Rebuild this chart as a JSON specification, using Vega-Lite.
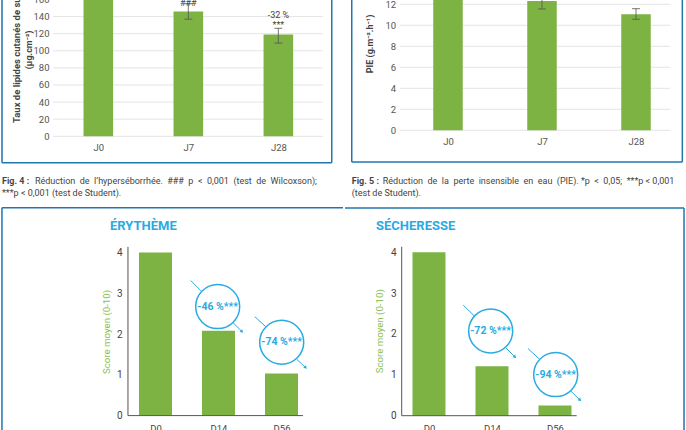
{
"$schema":"https://vega.github.io/schema/vega-lite/v6.json",
"padding":{"left":0,"right":0,"bottom":0,"top":-25},
"spacing":0,
"config":{"view":{"stroke":null},"font":"Roboto","concat":{"spacing":0}},
"vconcat":[
{"spacing":0,"hconcat":[
{"width":343,"height":225,
"encoding":{
"x":{"field":"pos","type":"quantitative","scale":{"domain":[-0.092,3.718],"nice":false,"zero":false,"padding":0},"axis":{"title":null,"values":[1,2,3],"labelExpr":"datum.value==1?'J0':datum.value==2?'J7':'J28'","domain":false,"ticks":false,"grid":false,"offset":-63,"labelPadding":0,"labelFontSize":9.5,"labelColor":"#555","labelBaseline":"top"}},
"y":{"field":"value","type":"quantitative","scale":{"domain":[-80.35,182.8],"nice":false,"zero":false},"axis":{"title":null,"values":[0,20,40,60,80,100,120,140,160],"domain":false,"ticks":false,"grid":false,"offset":-49,"labelPadding":0,"labelFontSize":9.5,"labelColor":"#555"}}},
"layer":[
{"data":{"values":[{"pos":0.497,"pos2":3.497,"value":0,"value2":0},{"pos":0.497,"pos2":3.497,"value":20,"value2":20},{"pos":0.497,"pos2":3.497,"value":40,"value2":40},{"pos":0.497,"pos2":3.497,"value":60,"value2":60},{"pos":0.497,"pos2":3.497,"value":80,"value2":80},{"pos":0.497,"pos2":3.497,"value":100,"value2":100},{"pos":0.497,"pos2":3.497,"value":120,"value2":120},{"pos":0.497,"pos2":3.497,"value":140,"value2":140},{"pos":0.497,"pos2":3.497,"value":160,"value2":160}]},"mark":{"type":"rule","color":"#e4e4e4","strokeWidth":1},"encoding":{"x2":{"field":"pos2"},"y2":{"field":"value2"}}},
{"data":{"values":[{"pos":1,"value":175},{"pos":2,"value":146},{"pos":3,"value":119}]},"mark":{"type":"bar","orient":"vertical","width":29.6,"color":"#7cb342"}},
{"data":{"values":[{"pos":2,"pos2":2,"value":137,"value2":155},{"pos":1.956,"pos2":2.044,"value":137,"value2":137},{"pos":1.956,"pos2":2.044,"value":155,"value2":155},{"pos":3,"pos2":3,"value":109,"value2":126.3},{"pos":2.956,"pos2":3.044,"value":109,"value2":109},{"pos":2.956,"pos2":3.044,"value":126.3,"value2":126.3}]},"mark":{"type":"rule","color":"#555","strokeWidth":0.8},"encoding":{"x2":{"field":"pos2"},"y2":{"field":"value2"}}},
{"data":{"values":[{"pos":-0.07,"pos2":-0.07,"value":-30.9,"value2":182.8},{"pos":3.593,"pos2":3.593,"value":-30.9,"value2":182.8},{"pos":-0.07,"pos2":3.593,"value":-30.9,"value2":-30.9}]},"mark":{"type":"rule","color":"#1f77ad","strokeWidth":1.5},"encoding":{"x2":{"field":"pos2"},"y2":{"field":"value2"}}},
{"data":{"values":[{"pos":2,"value":156,"t":"###"},{"pos":3,"value":142,"t":"-32 %"},{"pos":3,"value":130,"t":"***"}]},"mark":{"type":"text","fontSize":9,"color":"#444"},"encoding":{"text":{"field":"t"}}},
{"data":{"values":[{"pos":0.097,"value":15.6,"t":"Taux de lipides cutanés de surface"}]},"mark":{"type":"text","angle":-90,"align":"left","fontSize":9.5,"fontWeight":"bold","color":"#444"},"encoding":{"text":{"field":"t"}}},
{"data":{"values":[{"pos":0.23,"value":101,"t":"(µg.cm⁻²)"}]},"mark":{"type":"text","angle":-90,"align":"center","fontSize":9,"fontWeight":"bold","color":"#444"},"encoding":{"text":{"field":"t"}}},
{"data":{"values":[{"pos":-0.07,"value":-52.3,"t":"Fig. 4 :"}]},"mark":{"type":"text","align":"left","fontSize":9,"fontWeight":"bold","color":"#444"},"encoding":{"text":{"field":"t"}}},
{"data":{"values":[{"pos":0.296,"value":-52.3,"t":"Réduction\u00a0\u00a0de\u00a0\u00a0l’hyperséborrhée.\u00a0\u00a0###\u00a0\u00a0p\u00a0\u00a0<\u00a0\u00a00,001\u00a0\u00a0(test\u00a0\u00a0de\u00a0\u00a0Wilcoxson);"},{"pos":-0.07,"value":-66.3,"t":"***p < 0,001 (test de Student)."}]},"mark":{"type":"text","align":"left","fontSize":9,"color":"#444"},"encoding":{"text":{"field":"t"}}}
]},
{"width":343,"height":225,
"encoding":{
"x":{"field":"pos","type":"quantitative","scale":{"domain":[-0.117,3.532],"nice":false,"zero":false,"padding":0},"axis":{"title":null,"values":[1,2,3],"labelExpr":"datum.value==1?'J0':datum.value==2?'J7':'J28'","domain":false,"ticks":false,"grid":false,"offset":-69,"labelPadding":0,"labelFontSize":9.5,"labelColor":"#555","labelBaseline":"top"}},
"y":{"field":"value","type":"quantitative","scale":{"domain":[-7.11,14.31],"nice":false,"zero":false},"axis":{"title":null,"values":[0,2,4,6,8,10,12,14],"domain":false,"ticks":false,"grid":false,"offset":-52.7,"labelPadding":0,"labelFontSize":9.5,"labelColor":"#555"}}},
"layer":[
{"data":{"values":[{"pos":0.486,"pos2":3.365,"value":0,"value2":0},{"pos":0.486,"pos2":3.365,"value":2,"value2":2},{"pos":0.486,"pos2":3.365,"value":4,"value2":4},{"pos":0.486,"pos2":3.365,"value":6,"value2":6},{"pos":0.486,"pos2":3.365,"value":8,"value2":8},{"pos":0.486,"pos2":3.365,"value":10,"value2":10},{"pos":0.486,"pos2":3.365,"value":12,"value2":12}]},"mark":{"type":"rule","color":"#e4e4e4","strokeWidth":1},"encoding":{"x2":{"field":"pos2"},"y2":{"field":"value2"}}},
{"data":{"values":[{"pos":1,"value":13.6},{"pos":2,"value":12.3},{"pos":3,"value":11.05}]},"mark":{"type":"bar","orient":"vertical","width":29.5,"color":"#7cb342"}},
{"data":{"values":[{"pos":2,"pos2":2,"value":11.55,"value2":13},{"pos":1.958,"pos2":2.042,"value":11.55,"value2":11.55},{"pos":3,"pos2":3,"value":10.57,"value2":11.58},{"pos":2.958,"pos2":3.042,"value":10.57,"value2":10.57},{"pos":2.958,"pos2":3.042,"value":11.58,"value2":11.58}]},"mark":{"type":"rule","color":"#555","strokeWidth":0.8},"encoding":{"x2":{"field":"pos2"},"y2":{"field":"value2"}}},
{"data":{"values":[{"pos":-0.024,"pos2":-0.024,"value":-3.02,"value2":14.31},{"pos":3.493,"pos2":3.493,"value":-3.02,"value2":14.31},{"pos":-0.024,"pos2":3.493,"value":-3.02,"value2":-3.02}]},"mark":{"type":"rule","color":"#1f77ad","strokeWidth":1.5},"encoding":{"x2":{"field":"pos2"},"y2":{"field":"value2"}}},
{"data":{"values":[{"pos":0.17,"value":8.22,"t":"PIE (g.m⁻².h⁻¹)"}]},"mark":{"type":"text","angle":-90,"align":"center","fontSize":9,"fontWeight":"bold","color":"#444"},"encoding":{"text":{"field":"t"}}},
{"data":{"values":[{"pos":-0.024,"value":-4.81,"t":"Fig. 5 :"}]},"mark":{"type":"text","align":"left","fontSize":9,"fontWeight":"bold","color":"#444"},"encoding":{"text":{"field":"t"}}},
{"data":{"values":[{"pos":0.306,"value":-4.81,"t":"Réduction\u00a0\u00a0de\u00a0\u00a0la\u00a0\u00a0perte\u00a0\u00a0insensible\u00a0\u00a0en\u00a0\u00a0eau\u00a0\u00a0(PIE).\u00a0*p\u00a0\u00a0<\u00a0\u00a00,05;\u00a0\u00a0***p\u00a0<\u00a00,001"},{"pos":-0.024,"value":-5.95,"t":"(test de Student)."}]},"mark":{"type":"text","align":"left","fontSize":9,"color":"#444"},"encoding":{"text":{"field":"t"}}}
]}
]},
{"spacing":0,"hconcat":[
{"width":343,"height":225,
"encoding":{
"x":{"field":"pos","type":"quantitative","scale":{"domain":[-1.468,3.976],"nice":false,"zero":false,"padding":0},"axis":{"title":null,"values":[1,2,3],"labelExpr":"datum.value==1?'D0':datum.value==2?'D14':'D56'","domain":false,"ticks":false,"grid":false,"offset":-7,"labelPadding":0,"labelFontSize":9.5,"labelColor":"#444","labelBaseline":"top"}},
"y":{"field":"value","type":"quantitative","scale":{"domain":[-0.353,5.163],"nice":false,"zero":false},"axis":{"title":null,"values":[0,1,2,3,4],"format":"d","domain":false,"ticks":false,"grid":false,"offset":-122,"labelPadding":0,"labelFontSize":10,"labelColor":"#444"}}},
"layer":[
{"data":{"values":[{"pos":1,"value":4},{"pos":2,"value":2.08},{"pos":3,"value":1.03}]},"mark":{"type":"bar","orient":"vertical","width":33,"color":"#7cb342"}},
{"data":{"values":[{"pos":0.563,"pos2":0.563,"value":0,"value2":4.137},{"pos":0.563,"pos2":3.341,"value":0,"value2":0}]},"mark":{"type":"rule","color":"#555","strokeWidth":1},"encoding":{"x2":{"field":"pos2"},"y2":{"field":"value2"}}},
{"data":{"values":[{"pos":-1.437,"pos2":-1.437,"value":-0.353,"value2":5.094},{"pos":-1.437,"pos2":3.976,"value":5.094,"value2":5.094}]},"mark":{"type":"rule","color":"#1f77ad","strokeWidth":1.5},"encoding":{"x2":{"field":"pos2"},"y2":{"field":"value2"}}},
{"data":{"values":[{"pos":1.559,"pos2":1.722,"value":3.311,"value2":3.058},{"pos":2.225,"pos2":2.373,"value":2.29,"value2":2.059},{"pos":2.575,"pos2":2.749,"value":2.427,"value2":2.182},{"pos":3.241,"pos2":3.384,"value":1.382,"value2":1.175}]},"mark":{"type":"rule","color":"#29abe2","strokeWidth":1},"encoding":{"x2":{"field":"pos2"},"y2":{"field":"value2"}}},
{"data":{"values":[{"pos":2.373,"value":2.059},{"pos":3.384,"value":1.175}]},"mark":{"type":"point","shape":"triangle-up","angle":135,"filled":true,"size":14,"color":"#29abe2","opacity":1}},
{"data":{"values":[{"pos":1.987,"value":2.672},{"pos":3.003,"value":1.799}]},"mark":{"type":"point","shape":"circle","size":1936,"filled":false,"color":"#29abe2","strokeWidth":1.5,"opacity":1}},
{"data":{"values":[{"pos":1.987,"value":2.672,"t":"-46 %***"},{"pos":3.003,"value":1.799,"t":"-74 %***"}]},"mark":{"type":"text","fontSize":10.5,"fontWeight":"bold","color":"#29abe2"},"encoding":{"text":{"field":"t"}}},
{"data":{"values":[{"pos":0.278,"value":4.653,"t":"ÉRYTHÈME"}]},"mark":{"type":"text","align":"left","fontSize":13,"fontWeight":"bold","color":"#29abe2"},"encoding":{"text":{"field":"t"}}},
{"data":{"values":[{"pos":0.23,"value":2.05,"t":"Score moyen (0-10)"}]},"mark":{"type":"text","angle":-90,"align":"center","fontSize":9.7,"color":"#8cc152"},"encoding":{"text":{"field":"t"}}}
]},
{"width":343,"height":225,
"encoding":{
"x":{"field":"pos","type":"quantitative","scale":{"domain":[-0.333,5.111],"nice":false,"zero":false,"padding":0},"axis":{"title":null,"values":[1,2,3],"labelExpr":"datum.value==1?'D0':datum.value==2?'D14':'D56'","domain":false,"ticks":false,"grid":false,"offset":-7,"labelPadding":0,"labelFontSize":9.5,"labelColor":"#444","labelBaseline":"top"}},
"y":{"field":"value","type":"quantitative","scale":{"domain":[-0.35,5.155],"nice":false,"zero":false},"axis":{"title":null,"values":[0,1,2,3,4],"format":"d","domain":false,"ticks":false,"grid":false,"offset":-51,"labelPadding":0,"labelFontSize":10,"labelColor":"#444"}}},
"layer":[
{"data":{"values":[{"pos":1,"value":4},{"pos":2,"value":1.21},{"pos":3,"value":0.25}]},"mark":{"type":"bar","orient":"vertical","width":33,"color":"#7cb342"}},
{"data":{"values":[{"pos":0.567,"pos2":0.567,"value":0,"value2":4.132},{"pos":0.567,"pos2":3.344,"value":0,"value2":0}]},"mark":{"type":"rule","color":"#555","strokeWidth":1},"encoding":{"x2":{"field":"pos2"},"y2":{"field":"value2"}}},
{"data":{"values":[{"pos":5.048,"pos2":5.048,"value":-0.35,"value2":5.08},{"pos":-0.333,"pos2":5.048,"value":5.08,"value2":5.08}]},"mark":{"type":"rule","color":"#1f77ad","strokeWidth":1.5},"encoding":{"x2":{"field":"pos2"},"y2":{"field":"value2"}}},
{"data":{"values":[{"pos":1.544,"pos2":1.719,"value":2.703,"value2":2.441},{"pos":2.222,"pos2":2.365,"value":1.657,"value2":1.436},{"pos":2.571,"pos2":2.751,"value":1.642,"value2":1.387},{"pos":3.254,"pos2":3.397,"value":0.598,"value2":0.382}]},"mark":{"type":"rule","color":"#29abe2","strokeWidth":1},"encoding":{"x2":{"field":"pos2"},"y2":{"field":"value2"}}},
{"data":{"values":[{"pos":2.365,"value":1.436},{"pos":3.397,"value":0.382}]},"mark":{"type":"point","shape":"triangle-up","angle":135,"filled":true,"size":14,"color":"#29abe2","opacity":1}},
{"data":{"values":[{"pos":1.979,"value":2.074},{"pos":3.011,"value":1.005}]},"mark":{"type":"point","shape":"circle","size":1936,"filled":false,"color":"#29abe2","strokeWidth":1.5,"opacity":1}},
{"data":{"values":[{"pos":1.979,"value":2.074,"t":"-72 %***"},{"pos":3.011,"value":1.005,"t":"-94 %***"}]},"mark":{"type":"text","fontSize":10.5,"fontWeight":"bold","color":"#29abe2"},"encoding":{"text":{"field":"t"}}},
{"data":{"values":[{"pos":0.159,"value":4.64,"t":"SÉCHERESSE"}]},"mark":{"type":"text","align":"left","fontSize":13,"fontWeight":"bold","color":"#29abe2"},"encoding":{"text":{"field":"t"}}},
{"data":{"values":[{"pos":0.222,"value":2.066,"t":"Score moyen (0-10)"}]},"mark":{"type":"text","angle":-90,"align":"center","fontSize":9.7,"color":"#8cc152"},"encoding":{"text":{"field":"t"}}}
]}
]}
]
}
